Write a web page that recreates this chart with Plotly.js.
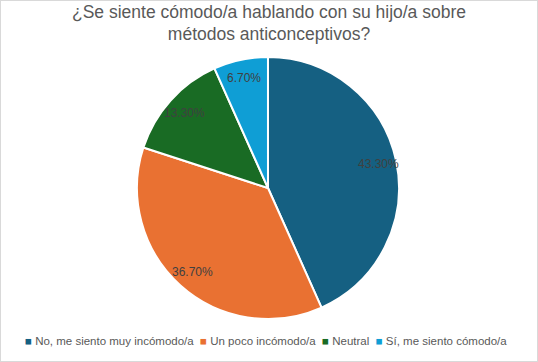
<!DOCTYPE html>
<html>
<head>
<meta charset="utf-8">
<script src="https://cdn.plot.ly/plotly-3.0.1.min.js"></script>
<style>
  html, body { margin: 0; padding: 0; background: #ffffff; }
  #chart { width: 538px; height: 362px; }
</style>
</head>
<body>
<div id="chart"></div>
<script>
const categories = [
  "No, me siento muy incómodo/a",
  "Un poco incómodo/a",
  "Neutral",
  "Sí, me siento cómodo/a"
];
const percentages = [43.3, 36.7, 13.3, 6.7];
const sliceColors = ["#156082", "#E97132", "#196B24", "#0F9ED5"];
const chartTitle = "¿Se siente cómodo/a hablando con su hijo/a sobre<br>métodos anticonceptivos?";

const FONT = 'Liberation Sans, Arial, sans-serif';
const W = 538, H = 362;
const pieDomain = { x: [0.2546, 0.7416], y: [0.1188, 0.8425] };
const labelRadiusFactor = 0.86;

// legend built from the category and colour arrays
const legendText = categories.map(function (c, i) {
  return '<span style="color:' + sliceColors[i] + '">■</span> ' + c;
}).join('\u00a0\u00a0');

// percentage labels placed along each slice's mid-angle (clockwise from 12 o'clock)
const total = percentages.reduce(function (a, b) { return a + b; }, 0);
const cxPx = (pieDomain.x[0] + pieDomain.x[1]) / 2 * W;
const cyPx = (1 - (pieDomain.y[0] + pieDomain.y[1]) / 2) * H;
const rPx = Math.min((pieDomain.x[1] - pieDomain.x[0]) * W, (pieDomain.y[1] - pieDomain.y[0]) * H) / 2;
let cum = 0;
const pctAnnotations = percentages.map(function (v) {
  const mid = (cum + v / 2) / total * 2 * Math.PI;
  cum += v;
  const d = rPx * labelRadiusFactor;
  return {
    text: v.toFixed(2) + '%',
    xref: 'paper', yref: 'paper',
    x: (cxPx + d * Math.sin(mid)) / W,
    y: 1 - (cyPx - d * Math.cos(mid)) / H,
    xanchor: 'center', yanchor: 'middle',
    showarrow: false,
    font: { family: FONT, size: 12, color: '#404040' }
  };
});

const data = [{
  type: 'pie',
  labels: categories,
  values: percentages,
  sort: false,
  direction: 'clockwise',
  rotation: 0,
  marker: { colors: sliceColors, line: { color: '#ffffff', width: 2 } },
  textinfo: 'none',
  hoverinfo: 'label+value',
  showlegend: false,
  domain: pieDomain
}];

const layout = {
  width: W,
  height: H,
  margin: { l: 0, r: 0, t: 0, b: 0 },
  paper_bgcolor: '#ffffff',
  font: { family: FONT, color: '#595959' },
  title: {
    text: chartTitle,
    font: { family: FONT, size: 17.5, color: '#595959' },
    x: 0.5, xanchor: 'center',
    y: 1 - 17.5 / 362, yanchor: 'middle', yref: 'container'
  },
  showlegend: false,
  annotations: pctAnnotations.concat([{
    text: legendText,
    xref: 'paper', yref: 'paper',
    x: 0.4935, y: 0.058, xanchor: 'center', yanchor: 'middle',
    showarrow: false,
    font: { family: FONT, size: 11.5, color: '#595959' }
  }]),
  shapes: [{
    type: 'rect', xref: 'paper', yref: 'paper',
    x0: 0, x1: 1, y0: 0, y1: 1,
    line: { color: '#D9D9D9', width: 2 }
  }]
};

Plotly.newPlot('chart', data, layout, { displayModeBar: false, staticPlot: true });
</script>
</body>
</html>
